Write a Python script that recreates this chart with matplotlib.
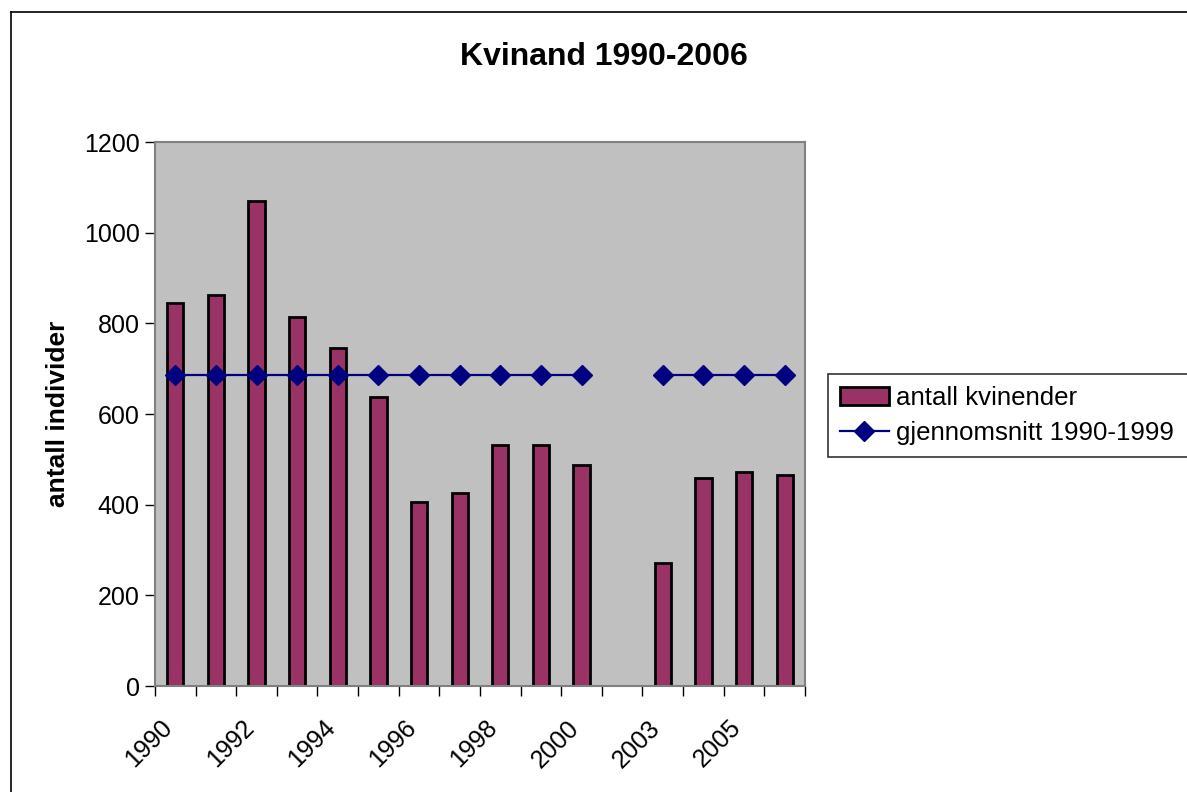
import numpy as np
import matplotlib
matplotlib.use("Agg")
import matplotlib.pyplot as plt
from matplotlib.lines import Line2D
from matplotlib.transforms import ScaledTranslation

plt.rcParams['font.family'] = ['Liberation Sans', 'DejaVu Sans']

years = ["1990", "1991", "1992", "1993", "1994", "1995", "1996", "1997",
         "1998", "1999", "2000", "2002", "2003", "2004", "2005", "2006"]
antall = [845, 863, 1069, 814, 745, 637, 406, 426, 531, 532, 488,
          np.nan, 271, 459, 473, 466]
snitt = [687, 687, 687, 687, 687, 687, 687, 687, 687, 687, 687,
         np.nan, 687, 687, 687, 687]
shown_labels = ["1990", "", "1992", "", "1994", "", "1996", "", "1998", "",
                "2000", "", "2003", "", "2005", ""]

W, H = 1187, 792
fig = plt.figure(figsize=(W / 100, H / 100), dpi=100)
fig.patch.set_facecolor('white')

# outer chart frame (left and top visible)
fig.add_artist(Line2D([11 / W, 11 / W], [0, 1 - 12 / H], transform=fig.transFigure,
                      color='black', lw=1.2))
fig.add_artist(Line2D([11 / W, 1], [1 - 12 / H, 1 - 12 / H], transform=fig.transFigure,
                      color='black', lw=1.2))

ax = fig.add_axes([155 / W, (H - 686) / H, 650 / W, 544 / H])
ax.set_facecolor('#C0C0C0')

x = np.arange(len(years))
bars = ax.bar(x, antall, width=0.4, color='#993366', edgecolor='black', linewidth=2,
              label='antall kvinender', zorder=2)
line, = ax.plot(x, snitt, color='#000080', lw=1.6, marker='D', markersize=10,
                markerfacecolor='#000080', markeredgecolor='#000080',
                label='gjennomsnitt 1990-1999', zorder=3)

ax.set_xlim(-0.5, len(years) - 0.5)
ax.set_ylim(0, 1200)
ax.set_yticks(np.arange(0, 1201, 200))
ax.tick_params(axis='y', labelsize=18, length=7, width=1, direction='out', pad=4)

ax.set_xticks(x)
ax.set_xticklabels(shown_labels, rotation=45, ha='right', va='top',
                   rotation_mode='anchor', fontsize=18)
ax.tick_params(axis='x', which='major', length=0, pad=22)
shift = ScaledTranslation(-15 / 100, 1 / 100, fig.dpi_scale_trans)
for lbl in ax.get_xticklabels():
    lbl.set_transform(lbl.get_transform() + shift)
ax.set_xticks(np.arange(-0.5, len(years), 1), minor=True)
ax.tick_params(axis='x', which='minor', length=7, width=1, direction='out')

for s in ax.spines.values():
    s.set_color('#808080')
    s.set_linewidth(1.5)

ax.set_ylabel('antall individer', fontsize=19, fontweight='bold', labelpad=10)

fig.text(604 / W, 1 - 57 / H, 'Kvinand 1990-2006', fontsize=23, fontweight='bold',
         ha='center', va='center')

leg = ax.legend([bars, line], ['antall kvinender', 'gjennomsnitt 1990-1999'],
                loc='upper left', bbox_to_anchor=(828 / W, 1 - 374 / H, 0.4, 0.0),
                bbox_transform=fig.transFigure, mode='expand', fontsize=18.6,
                frameon=True, fancybox=False, shadow=False, borderpad=0.45,
                handlelength=1.9, handletextpad=0.3, labelspacing=0.45,
                borderaxespad=0)
leg.get_frame().set_edgecolor('black')
leg.get_frame().set_linewidth(1.2)

fig.savefig('out.png', dpi=100, facecolor='white')
